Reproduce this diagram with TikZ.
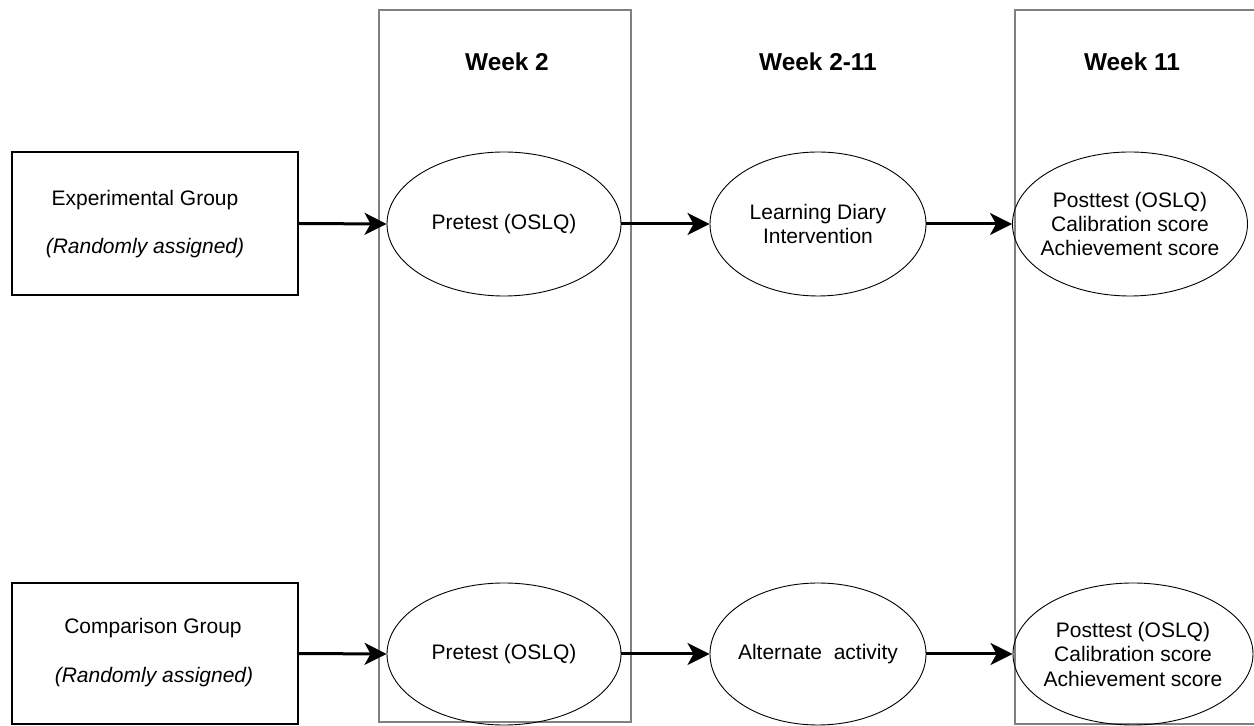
\documentclass[tikz,border=0pt]{standalone}
\usepackage{fontspec}
\setmainfont{Liberation Sans}
\usetikzlibrary{shapes.geometric,arrows.meta}
\definecolor{colgray}{HTML}{808080}
\begin{document}
\begin{tikzpicture}[x=0.5pt,y=-0.5pt,
  column/.style={draw=colgray,line width=1.1pt},
  groupbox/.style={draw=black,line width=0.7pt,rectangle,inner sep=0pt,minimum width=143pt,minimum height=71.5pt},
  txt/.style={font=\fontsize{10.5}{12.25}\selectfont,inner sep=0pt,align=center},
  head/.style={font=\fontsize{12.2}{14}\selectfont\bfseries,inner sep=0pt},
  oval/.style={ellipse,draw=black,line width=0.45pt,inner sep=0pt},
  flow/.style={line width=1.5pt,-{Stealth[length=11pt,width=11pt,inset=3pt]}}
]
\useasboundingbox (0,0) rectangle (1254,726);
% columns
\draw[column] (379,10) rectangle (631,722);
\draw[column] (1015,10) rectangle (1262,724);
% headers
\node[head] (h1) at (507,62) {Week 2};
\node[head] (h2) at (818,62) {Week 2-11};
\node[head] (h3) at (1132,62) {Week 11};
% group boxes
\node[groupbox] (exp) at (155,223.5) {};
\node[txt] (expa) at (145,200) {Experimental Group};
\node[txt,font=\fontsize{10.5}{12.25}\selectfont\itshape] (expb) at (145,248) {(Randomly assigned)};
\node[groupbox,minimum height=70.5pt] (cmp) at (155,653.5) {};
\node[txt] (cmpa) at (153,628) {Comparison Group};
\node[txt,font=\fontsize{10.5}{12.25}\selectfont\itshape] (cmpb) at (154,677) {(Randomly assigned)};
% top row ellipses
\node[oval,minimum width=117pt,minimum height=72pt] (pre1) at (504,224) {};
\node[txt] (pre1t) at (pre1.center) {Pretest (OSLQ)};
\node[oval,minimum width=108pt,minimum height=72pt] (ld) at (818,224) {};
\node[txt] (ldt) at (ld.center) {Learning Diary\\Intervention};
\node[oval,minimum width=117.5pt,minimum height=72pt] (post1) at (1130,224) {};
\node[txt] (post1t) at (post1.center) {Posttest (OSLQ)\\Calibration score\\Achievement score};
% bottom row ellipses
\node[oval,minimum width=117pt,minimum height=71pt] (pre2) at (504,654) {};
\node[txt] (pre2t) at (pre2.center) {Pretest (OSLQ)};
\node[oval,minimum width=108pt,minimum height=71pt] (alt) at (818,654) {};
\node[txt] (altt) at (alt.center) {Alternate\ \ activity};
\node[oval,minimum width=120pt,minimum height=71pt] (post2) at (1133,654) {};
\node[txt] (post2t) at (post2.center) {Posttest (OSLQ)\\Calibration score\\Achievement score};
% arrows
\draw[flow] (exp.east) -- (pre1.west);
\draw[flow] (pre1.east) -- (ld.west);
\draw[flow] (ld.east) -- (post1.west);
\draw[flow] (cmp.east) -- (pre2.west);
\draw[flow] (pre2.east) -- (alt.west);
\draw[flow] (alt.east) -- (post2.west);
\end{tikzpicture}
\end{document}
